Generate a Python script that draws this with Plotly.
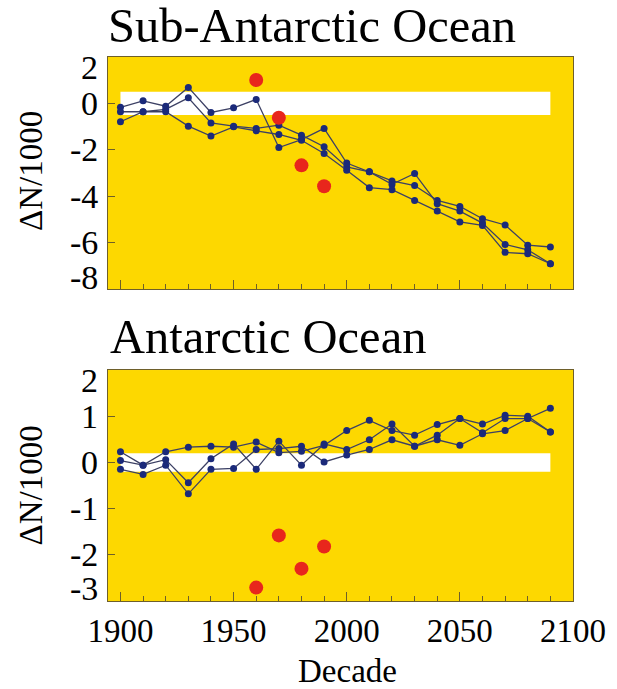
import plotly.graph_objects as go
from plotly.subplots import make_subplots

decades = [1900, 1910, 1920, 1930, 1940, 1950, 1960, 1970, 1980, 1990,
           2000, 2010, 2020, 2030, 2040, 2050, 2060, 2070, 2080, 2090]

# Sub-Antarctic Ocean (top panel), ΔN/1000
sub_a = [-0.17, 0.11, -0.12, 0.69, -0.39, -0.19, 0.17, -1.90, -1.56, -1.08,
         -2.57, -2.95, -3.34, -3.54, -4.18, -4.44, -4.97, -5.24, -6.11, -6.19]
sub_b = [-0.36, -0.36, -0.26, 0.24, -0.84, -0.98, -1.08, -0.94, -1.37, -1.87,
         -2.74, -2.95, -3.49, -3.02, -4.32, -4.64, -5.16, -6.08, -6.31, -6.91]
sub_c = [-0.79, -0.36, -0.36, -0.98, -1.41, -1.01, -1.18, -1.34, -1.59, -2.16,
         -2.88, -3.63, -3.72, -4.18, -4.64, -5.11, -5.26, -6.42, -6.48, -6.91]
sub_obs_x = [1960, 1970, 1980, 1990]
sub_obs_y = [1.01, -0.62, -2.67, -3.57]

# Antarctic Ocean (bottom panel), ΔN/1000
ant_a = [0.23, -0.06, 0.23, 0.33, 0.35, 0.33, 0.44, 0.21, 0.24, 0.37,
         0.69, 0.91, 0.69, 0.59, 0.82, 0.95, 0.83, 1.02, 1.00, 0.66]
ant_b = [0.04, -0.06, 0.06, -0.44, 0.08, 0.40, -0.15, 0.46, -0.06, 0.40,
         0.28, 0.49, 0.83, 0.35, 0.59, 0.95, 0.64, 0.95, 0.95, 0.66]
ant_c = [-0.15, -0.26, -0.06, -0.68, -0.15, -0.13, 0.28, 0.30, 0.35, 0.01,
         0.16, 0.28, 0.49, 0.35, 0.49, 0.37, 0.62, 0.69, 0.95, 1.17]
ant_obs_x = [1960, 1970, 1980, 1990]
ant_obs_y = [-2.71, -1.58, -2.30, -1.82]

# white reference bands (x span, half-width)
band_x = [1900, 2090]
sub_band = [-0.5, 0.5]
ant_band = [-0.2, 0.2]

sub_yticks = [2, 0, -2, -4, -6, -8]
ant_yticks = [2, 1, 0, -1, -2, -3]
x_ticks = [1900, 1950, 2000, 2050, 2100]

YELLOW = "#FDD800"
NAVY = "#1B2A7A"
LINE = "#3C4064"
RED = "#E8261C"
FRAME = "#6E5F2A"
SERIF = "Liberation Serif, Times New Roman, serif"

fig = make_subplots(rows=2, cols=1, vertical_spacing=0.149)


def add_panel(row, series, obs_x, obs_y):
    for s in series:
        fig.add_trace(go.Scatter(x=decades, y=s, mode="lines+markers",
                                 line=dict(color=LINE, width=1.3),
                                 marker=dict(color=NAVY, size=7),
                                 showlegend=False), row=row, col=1)
    fig.add_trace(go.Scatter(x=obs_x, y=obs_y, mode="markers",
                             marker=dict(color=RED, size=14),
                             showlegend=False), row=row, col=1)


add_panel(1, [sub_a, sub_b, sub_c], sub_obs_x, sub_obs_y)
add_panel(2, [ant_a, ant_b, ant_c], ant_obs_x, ant_obs_y)

fig.add_shape(type="rect", xref="x", yref="y", x0=band_x[0], x1=band_x[1],
              y0=sub_band[0], y1=sub_band[1], fillcolor="white",
              line=dict(width=0), layer="below")
fig.add_shape(type="rect", xref="x2", yref="y2", x0=band_x[0], x1=band_x[1],
              y0=ant_band[0], y1=ant_band[1], fillcolor="white",
              line=dict(width=0), layer="below")

xcommon = dict(range=[1894.5, 2100], tickvals=x_ticks, ticks="inside",
               ticklen=9, tickwidth=1, tickcolor=FRAME,
               minor=dict(dtick=10, tick0=1900, ticks="inside", ticklen=5,
                          tickcolor=FRAME, tickwidth=1),
               showgrid=False, zeroline=False, showline=True, mirror=True,
               linecolor=FRAME, linewidth=1)
fig.update_xaxes(**xcommon)
fig.update_xaxes(showticklabels=False, row=1, col=1)
fig.update_xaxes(showticklabels=True, ticklabelstandoff=0,
                 tickfont=dict(family=SERIF, size=33, color="black"),
                 row=2, col=1)

ycommon = dict(ticks="inside", ticklen=7, tickwidth=1, tickcolor=FRAME,
               showticklabels=False, showgrid=False, zeroline=False,
               showline=True, mirror=True, linecolor=FRAME, linewidth=1)
fig.update_yaxes(range=[-8, 2], tickvals=sub_yticks, row=1, col=1, **ycommon)
fig.update_yaxes(range=[-3, 2], tickvals=ant_yticks, row=2, col=1, **ycommon)

ann = []


def ytick_labels(ticks, yref, lo, hi):
    for v in ticks:
        shift = 0
        if v == hi:
            shift = -10
        elif v == lo:
            shift = 12
        ann.append(dict(text=f"{v}", x=0, xref="paper", xanchor="right",
                        xshift=-8, y=v, yref=yref, yanchor="middle",
                        yshift=shift, showarrow=False,
                        font=dict(family=SERIF, size=34, color="black")))


ytick_labels(sub_yticks, "y", -8, 2)
ytick_labels(ant_yticks, "y2", -3, 2)

for ypos in [0.790, 0.212]:
    ann.append(dict(text="ΔN/1000", textangle=-90, x=-0.166, xref="paper",
                    xanchor="center", y=ypos, yref="paper", yanchor="middle",
                    showarrow=False, font=dict(family=SERIF, size=33, color="black")))

ann.append(dict(text="Sub-Antarctic Ocean", x=0, xref="paper", xanchor="left",
                xshift=-2, y=1.058, yref="paper", yanchor="middle", showarrow=False,
                font=dict(family=SERIF, size=48.5, color="black")))
ann.append(dict(text="Antarctic Ocean", x=0, xref="paper", xanchor="left",
                y=0.487, yref="paper", yanchor="middle", showarrow=False,
                font=dict(family=SERIF, size=48.5, color="black")))
ann.append(dict(text="Decade", x=0.514, xref="paper", xanchor="center",
                y=-0.128, yref="paper", yanchor="middle", showarrow=False,
                font=dict(family=SERIF, size=33, color="black")))

fig.update_layout(width=617, height=689, paper_bgcolor="white",
                  plot_bgcolor=YELLOW,
                  margin=dict(l=108, r=44, t=57, b=88),
                  annotations=ann, showlegend=False)
fig.layout.yaxis.domain = [0.5735, 1.0]
fig.layout.yaxis2.domain = [0.0, 0.4246]

fig.write_html("out.html", config={"displayModeBar": False},
               post_script="document.body.style.margin='0';document.body.style.padding='0';")
